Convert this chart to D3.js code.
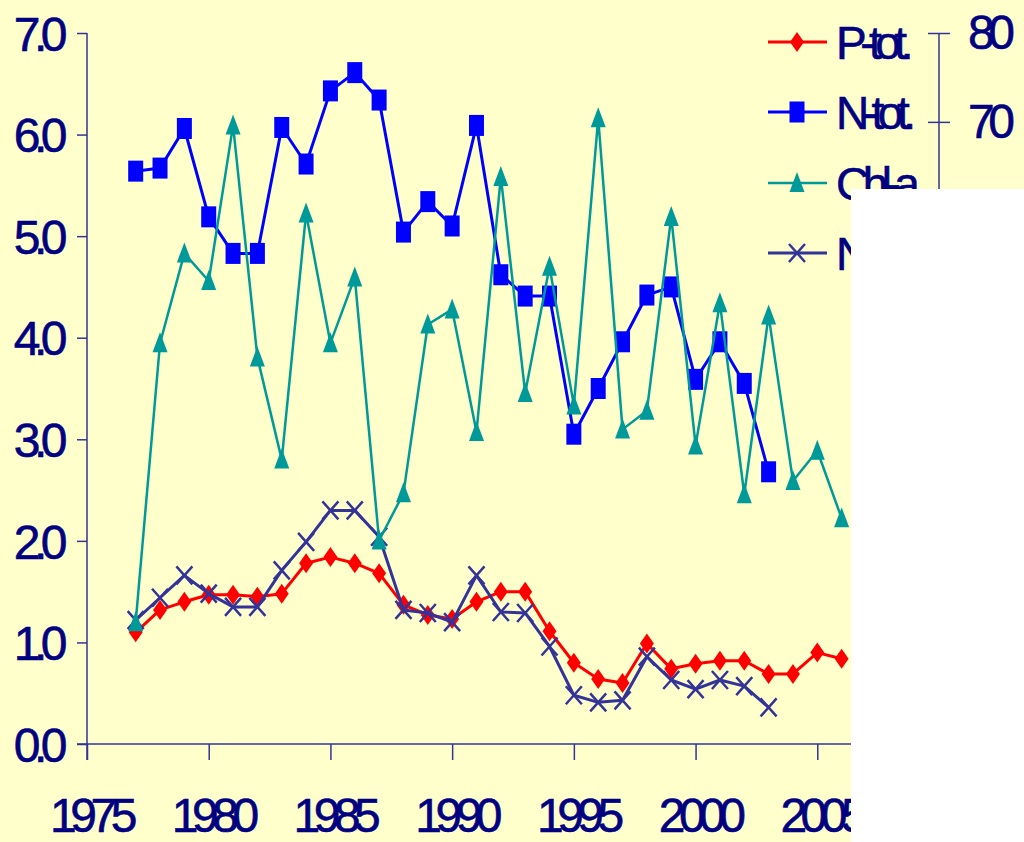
<!DOCTYPE html>
<html>
<head>
<meta charset="utf-8">
<script src="https://cdn.jsdelivr.net/npm/d3@7"></script>
<style>
  html, body { margin: 0; padding: 0; background: #ffffff; }
  svg { display: block; }
  text { font-family: "Liberation Sans", Arial, sans-serif; fill: #000080; }
</style>
</head>
<body>
<svg id="chart" width="1024" height="842"></svg>
<script>
// Annual means, 1977 onwards
const years = [1977,1978,1979,1980,1981,1982,1983,1984,1985,1986,1987,1988,1989,1990,1991,
               1992,1993,1994,1995,1996,1997,1998,1999,2000,2001,2002,2003,2004,2005,2006];
const pTot = [1.10,1.32,1.40,1.47,1.47,1.45,1.48,1.78,1.84,1.78,1.68,1.37,1.27,1.23,1.40,
              1.50,1.50,1.11,0.80,0.64,0.60,0.99,0.74,0.79,0.82,0.82,0.69,0.69,0.90,0.84];
const nTot = [5.64,5.67,6.06,5.19,4.83,4.83,6.07,5.71,6.43,6.61,6.34,5.04,5.34,5.10,6.09,
              4.62,4.41,4.41,3.05,3.50,3.96,4.42,4.50,3.59,3.96,3.55,2.68];
const chlA = [13.7,45.1,55.2,52.1,69.6,43.5,32.0,59.7,45.1,52.5,22.9,28.2,47.2,48.9,35.1,
              63.8,39.5,53.7,38.1,70.4,35.4,37.5,59.3,33.6,49.6,28.1,48.2,29.6,33.0,25.4];
const nInorg = [1.22,1.44,1.66,1.48,1.35,1.35,1.71,1.99,2.30,2.30,2.04,1.32,1.29,1.20,1.66,
                1.30,1.29,0.96,0.48,0.41,0.43,0.86,0.63,0.54,0.63,0.57,0.36];

const xTicks = [1975,1980,1985,1990,1995,2000,2005,2010];
const yLeftTicks = [0,1,2,3,4,5,6,7];
const yRightTicks = [0,10,20,30,40,50,60,70,80];
const seriesNames = ["P-tot.", "N-tot.", "Chl-a", "NO3-N"];

const svg = d3.select("#chart");
svg.append("rect").attr("width", 1024).attr("height", 842).attr("fill", "#ffffcc");

const x = d3.scaleLinear().domain([1975, 2010]).range([87, 939]);
const yL = d3.scaleLinear().domain([0, 7]).range([744, 33]);
const yR = d3.scaleLinear().domain([0, 80]).range([744, 33]);

const axisColor = "#333399";
const LS = "-6.5px";

// left axis
const gL = svg.append("g").attr("transform", "translate(87,0)")
  .call(d3.axisLeft(yL).tickValues(yLeftTicks).tickFormat(d3.format(".1f")).tickSize(10).tickPadding(12));
// bottom axis
const gB = svg.append("g").attr("transform", "translate(0,744)")
  .call(d3.axisBottom(x).tickValues(xTicks).tickFormat(d3.format("d")).tickSize(16).tickPadding(36));
// right axis, ticks crossing the line
const gR = svg.append("g").attr("transform", "translate(939,0)")
  .call(d3.axisRight(yR).tickValues(yRightTicks).tickSize(11).tickPadding(18));
gR.selectAll(".tick line").attr("x1", -11);

[gL, gB, gR].forEach(g => {
  g.select(".domain").attr("stroke", axisColor).attr("stroke-width", 1.5);
  g.selectAll(".tick line").attr("stroke", axisColor).attr("stroke-width", 1.5);
  g.selectAll(".tick text").attr("fill", "#000080").style("font-size", "48px")
    .style("letter-spacing", LS).attr("font-family", "Liberation Sans, Arial, sans-serif")
    .attr("stroke", "#000080").attr("stroke-width", 0.6);
});
// axis lines run past the origin like the original frame
gL.select(".domain").attr("d", "M0,33V760");
gB.select(".domain").attr("d", "M77,0H939");
gR.select(".domain").attr("d", "M0,33V744");
gL.selectAll(".tick text").attr("dy", "0.36em").attr("x", -26);
gB.selectAll(".tick text").attr("dy", "0").attr("y", 88).attr("dx", "3px");

// marker shapes
function drawMarker(g, type, color, cx, cy) {
  if (type === "diamond") {
    g.append("path").attr("d", `M${cx},${cy-10}L${cx+7},${cy}L${cx},${cy+10}L${cx-7},${cy}Z`).attr("fill", color);
  } else if (type === "square") {
    g.append("rect").attr("x", cx-7.5).attr("y", cy-10.5).attr("width", 15).attr("height", 21).attr("fill", color);
  } else if (type === "triangle") {
    g.append("path").attr("d", `M${cx},${cy-11}L${cx+7.5},${cy+9}L${cx-7.5},${cy+9}Z`).attr("fill", color);
  } else if (type === "cross") {
    g.append("path").attr("d", `M${cx-8},${cy-9}L${cx+8},${cy+9}M${cx+8},${cy-9}L${cx-8},${cy+9}`)
      .attr("stroke", color).attr("stroke-width", 2.5).attr("fill", "none");
  }
}

const series = [
  { name: seriesNames[0], values: pTot,   y: yL, color: "#ff0000", width: 3,   marker: "diamond" },
  { name: seriesNames[1], values: nTot,   y: yL, color: "#0000ff", width: 3,   marker: "square" },
  { name: seriesNames[2], values: chlA,   y: yR, color: "#009999", width: 2.5, marker: "triangle" },
  { name: seriesNames[3], values: nInorg, y: yL, color: "#333399", width: 3,   marker: "cross" }
];

// draw order: P-tot, N-tot, NO3-N on primary axis, Chl-a over them
const drawOrder = [0, 1, 3, 2];
drawOrder.forEach(i => {
  const s = series[i];
  const pts = s.values.map((v, k) => [years[k], v]);
  const line = d3.line().x(d => x(d[0])).y(d => s.y(d[1]));
  const g = svg.append("g");
  g.append("path").attr("d", line(pts)).attr("fill", "none")
    .attr("stroke", s.color).attr("stroke-width", s.width).attr("stroke-linejoin", "round");
  pts.forEach(d => drawMarker(g, s.marker, s.color, x(d[0]), s.y(d[1])));
});

// legend
const legendRows = [42, 112, 183, 253];
series.forEach((s, i) => {
  const g = svg.append("g");
  const cy = legendRows[i];
  g.append("line").attr("x1", 768).attr("x2", 827).attr("y1", cy).attr("y2", cy)
    .attr("stroke", s.color).attr("stroke-width", s.width);
  drawMarker(g, s.marker, s.color, 797, cy);
  g.append("text").attr("x", 836).attr("y", cy).attr("dy", "0.36em")
    .style("font-size", "46px").style("letter-spacing", LS)
    .attr("stroke", "#000080").attr("stroke-width", 0.6).text(s.name);
});

// blank panel over the lower right corner
svg.append("rect").attr("x", 851).attr("y", 189).attr("width", 173).attr("height", 653).attr("fill", "#ffffff");
</script>
</body>
</html>
